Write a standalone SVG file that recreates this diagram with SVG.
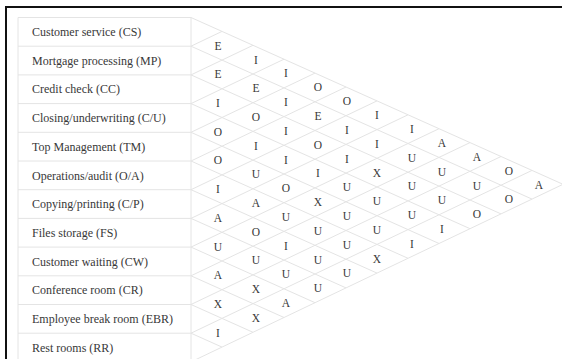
<svg xmlns="http://www.w3.org/2000/svg" width="562" height="359" viewBox="0 0 562 359">
<style>
.lbl{font-family:"Liberation Serif","Times New Roman",serif;font-size:12px;fill:#383838}
.rel{font-family:"Liberation Serif","Times New Roman",serif;font-size:11.5px;fill:#383838;text-anchor:middle}
.grid{fill:none;stroke:#e4e4e4;stroke-width:1}
.frame{fill:none;stroke:#111;stroke-width:2}
</style>
<rect x="0" y="0" width="562" height="359" fill="#fff"/>
<path class="frame" d="M6,359 V7 H562"/>
<g id="connectors">
<path class="grid" d="M18,17.5 V361.9 M191,17.5 V361.9
M18,17.5 H191 M18,46.2 H191 M18,74.9 H191 M18,103.6 H191 M18,132.3 H191 M18,161 H191 M18,189.7 H191 M18,218.4 H191 M18,247.1 H191 M18,275.8 H191 M18,304.5 H191 M18,333.2 H191 M18,361.9 H191"/>
<path class="grid" d="M191,17.5 L563,184.3 M191,46.2 L532,199.1 M191,74.9 L501,213.9 M191,103.6 L470,228.7 M191,132.3 L439,243.5 M191,161 L408,258.3 M191,189.7 L377,273.1 M191,218.4 L346,287.9 M191,247.1 L315,302.7 M191,275.8 L284,317.5 M191,304.5 L253,332.3 M191,333.2 L222,347.1"/>
<path class="grid" d="M191,46.2 L222,31.4 M191,74.9 L253,45.3 M191,103.6 L284,59.2 M191,132.3 L315,73.1 M191,161 L346,87 M191,189.7 L377,100.9 M191,218.4 L408,114.8 M191,247.1 L439,128.7 M191,275.8 L470,142.6 M191,304.5 L501,156.5 M191,333.2 L532,170.4 M191,361.9 L563,184.3"/>
</g>
<g id="CS"><text class="lbl" x="32" y="36">Customer service (CS)</text></g>
<g id="MP"><text class="lbl" x="32" y="64.7">Mortgage processing (MP)</text></g>
<g id="CC"><text class="lbl" x="32" y="93.4">Credit check (CC)</text></g>
<g id="CU"><text class="lbl" x="32" y="122.1">Closing/underwriting (C/U)</text></g>
<g id="TM"><text class="lbl" x="32" y="150.8">Top Management (TM)</text></g>
<g id="OA"><text class="lbl" x="32" y="179.5">Operations/audit (O/A)</text></g>
<g id="CP"><text class="lbl" x="32" y="208.2">Copying/printing (C/P)</text></g>
<g id="FS"><text class="lbl" x="32" y="236.9">Files storage (FS)</text></g>
<g id="CW"><text class="lbl" x="32" y="265.6">Customer waiting (CW)</text></g>
<g id="CR"><text class="lbl" x="32" y="294.3">Conference room (CR)</text></g>
<g id="EBR"><text class="lbl" x="32" y="323">Employee break room (EBR)</text></g>
<g id="RR"><text class="lbl" x="32" y="351.7">Rest rooms (RR)</text></g>
<g id="col1">
<text class="rel" x="218" y="49.6">E</text><text class="rel" x="218" y="78.3">E</text><text class="rel" x="218" y="107">I</text><text class="rel" x="218" y="135.7">O</text><text class="rel" x="218" y="164.4">O</text><text class="rel" x="218" y="193.1">I</text><text class="rel" x="218" y="221.8">A</text><text class="rel" x="218" y="250.5">U</text><text class="rel" x="218" y="279.2">A</text><text class="rel" x="218" y="307.9">X</text><text class="rel" x="218" y="336.6">I</text>
</g>
<g id="col2">
<text class="rel" x="256" y="63.5">I</text><text class="rel" x="256" y="92.2">E</text><text class="rel" x="256" y="120.9">O</text><text class="rel" x="256" y="149.6">I</text><text class="rel" x="256" y="178.3">U</text><text class="rel" x="256" y="207">A</text><text class="rel" x="256" y="235.7">O</text><text class="rel" x="256" y="264.4">U</text><text class="rel" x="256" y="293.1">X</text><text class="rel" x="256" y="321.8">X</text>
</g>
<g id="col3">
<text class="rel" x="286" y="77.4">I</text><text class="rel" x="286" y="106.1">I</text><text class="rel" x="286" y="134.8">I</text><text class="rel" x="286" y="163.5">I</text><text class="rel" x="286" y="192.2">O</text><text class="rel" x="286" y="220.9">U</text><text class="rel" x="286" y="249.6">I</text><text class="rel" x="286" y="278.3">U</text><text class="rel" x="286" y="307">A</text>
</g>
<g id="col4">
<text class="rel" x="318" y="91.3">O</text><text class="rel" x="318" y="120">E</text><text class="rel" x="318" y="148.7">O</text><text class="rel" x="318" y="177.4">I</text><text class="rel" x="318" y="206.1">X</text><text class="rel" x="318" y="234.8">U</text><text class="rel" x="318" y="263.5">U</text><text class="rel" x="318" y="292.2">U</text>
</g>
<g id="col5">
<text class="rel" x="347" y="105.2">O</text><text class="rel" x="347" y="133.9">I</text><text class="rel" x="347" y="162.6">I</text><text class="rel" x="347" y="191.3">U</text><text class="rel" x="347" y="220">U</text><text class="rel" x="347" y="248.7">U</text><text class="rel" x="347" y="277.4">U</text>
</g>
<g id="col6">
<text class="rel" x="377" y="119.1">I</text><text class="rel" x="377" y="147.8">I</text><text class="rel" x="377" y="176.5">X</text><text class="rel" x="377" y="205.2">U</text><text class="rel" x="377" y="233.9">U</text><text class="rel" x="377" y="262.6">X</text>
</g>
<g id="col7">
<text class="rel" x="412" y="133">I</text><text class="rel" x="412" y="161.7">U</text><text class="rel" x="412" y="190.4">U</text><text class="rel" x="412" y="219.1">U</text><text class="rel" x="412" y="247.8">I</text>
</g>
<g id="col8">
<text class="rel" x="442" y="146.9">A</text><text class="rel" x="442" y="175.6">U</text><text class="rel" x="442" y="204.3">U</text><text class="rel" x="442" y="233">I</text>
</g>
<g id="col9">
<text class="rel" x="477" y="160.8">A</text><text class="rel" x="477" y="189.5">U</text><text class="rel" x="477" y="218.2">O</text>
</g>
<g id="col10">
<text class="rel" x="509" y="174.7">O</text><text class="rel" x="509" y="203.4">O</text>
</g>
<g id="col11">
<text class="rel" x="539" y="188.6">A</text>
</g>
</svg>
